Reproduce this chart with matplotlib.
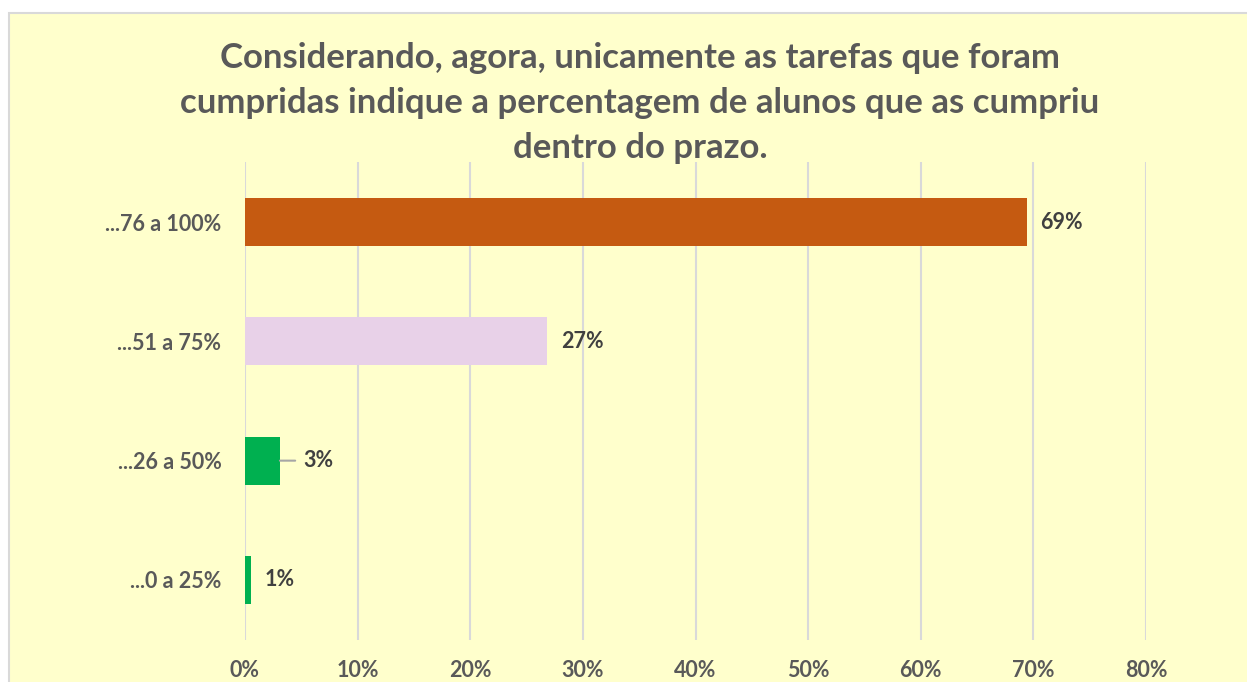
import matplotlib
matplotlib.use("Agg")
import matplotlib.pyplot as plt
from matplotlib.patches import Rectangle

categories = ["...0 a 25%", "...26 a 50%", "...51 a 75%", "...76 a 100%"]
values = [0.005, 0.031, 0.268, 0.694]
labels = ["1%", "3%", "27%", "69%"]
colors = ["#00B050", "#00B050", "#E8D1E8", "#C55A11"]
xticks = [0, 0.1, 0.2, 0.3, 0.4, 0.5, 0.6, 0.7, 0.8]
xticklabels = ["0%", "10%", "20%", "30%", "40%", "50%", "60%", "70%", "80%"]
title = ("Considerando, agora, unicamente as tarefas que foram\n"
         "cumpridas indique a percentagem de alunos que as cumpriu\n"
         "dentro do prazo.")

plt.rcParams['font.family'] = ['Lato', 'DejaVu Sans']
W, H = 1247, 682
fig = plt.figure(figsize=(W / 100, H / 100), dpi=100)
fig.patch.set_facecolor("white")
bg = "#FFFFCC"
fig.patches.append(Rectangle((9 / W, -0.1), 1.2, (H - 13) / H + 0.1,
                             transform=fig.transFigure, facecolor=bg,
                             edgecolor="#D9D9D9", linewidth=1.5, zorder=-10))

ax = fig.add_axes([245 / W, 1 - 639.6 / H, (1146 - 245) / W, (639.6 - 162.4) / H])
ax.set_facecolor("none")
y = list(range(len(categories)))
ax.barh(y, values, height=0.4, color=colors, zorder=3)
ax.set_xlim(0, 0.8)
ax.set_ylim(-0.5, len(categories) - 0.5)
ax.set_xticks(xticks)
ax.set_xticklabels(xticklabels)
ax.set_yticks(y)
ax.set_yticklabels(categories)
for s in ax.spines.values():
    s.set_visible(False)
ax.grid(axis="x", color="#D9D9D9", linewidth=1.5, zorder=0)
ax.tick_params(length=0)
ax.tick_params(axis="x", pad=15)
ax.tick_params(axis="y", pad=17)
for lab in ax.get_xticklabels() + ax.get_yticklabels():
    lab.set_fontsize(15.5)
    lab.set_fontweight("bold")
    lab.set_color("#595959")

for i, (v, t) in enumerate(zip(values, labels)):
    if t == "3%":
        ax.annotate(t, xy=(v, i), xytext=(17, 0), textcoords="offset points",
                    ha="left", va="center", fontsize=15.5, fontweight="bold",
                    color="#404040",
                    arrowprops=dict(arrowstyle="-", color="#A6A6A6", lw=1.5,
                                    shrinkA=4, shrinkB=0))
    else:
        ax.annotate(t, xy=(v, i), xytext=(10, 0), textcoords="offset points",
                    ha="left", va="center", fontsize=15.5, fontweight="bold",
                    color="#404040")

fig.text(640 / W, 1 - 42 / H, title, ha="center", va="top", fontsize=25,
         fontweight="bold", color="#595959", linespacing=1.5)

fig.savefig("out.png", dpi=100, facecolor=fig.get_facecolor())
